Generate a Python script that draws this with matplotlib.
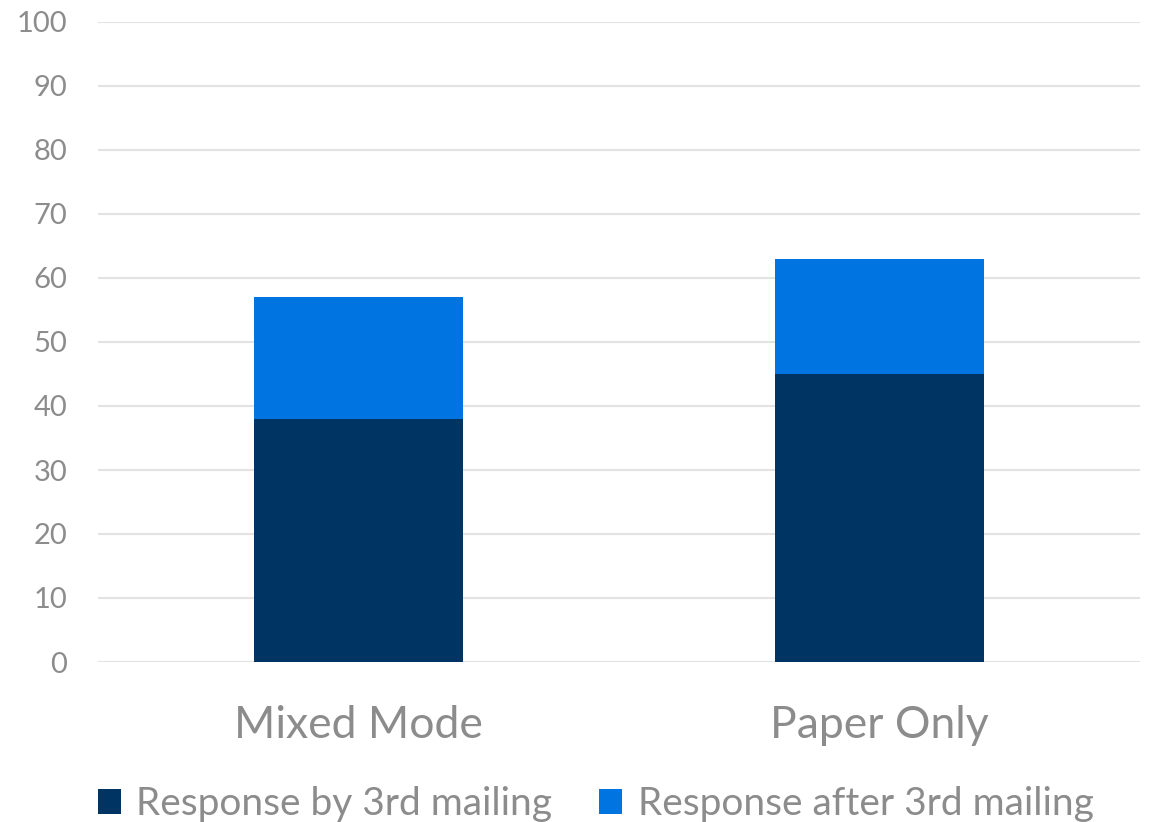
import matplotlib
matplotlib.use("Agg")
import matplotlib.pyplot as plt
import numpy as np

# data
categories = ["Mixed Mode", "Paper Only"]
by_3rd = [38, 45]
after_3rd = [19, 18]
series_names = ["Response by 3rd mailing", "Response after 3rd mailing"]
colors = ["#003462", "#0074E0"]
grey = "#8c8c8c"

plt.rcParams["font.family"] = ["Lato", "DejaVu Sans"]

fig = plt.figure(figsize=(11.5, 8.22), dpi=100)
ax = fig.add_axes([98 / 1150, 160 / 822, 1042 / 1150, 640 / 822])

x = np.arange(len(categories))
ax.bar(x, by_3rd, width=0.4, color=colors[0], label=series_names[0], zorder=3)
ax.bar(x, after_3rd, width=0.4, bottom=by_3rd, color=colors[1],
       label=series_names[1], zorder=3)

ax.set_xlim(-0.5, 1.5)
ax.set_ylim(0, 100)
ax.set_yticks(range(0, 101, 10))
ax.set_xticks(x)
ax.set_xticklabels(categories, fontsize=32, color=grey)
ax.tick_params(axis="y", labelsize=21, colors=grey, length=0, pad=22)
ax.tick_params(axis="x", length=0, pad=31)
ax.grid(axis="y", color="#e3e3e3", linewidth=1.5, zorder=0)
for s in ax.spines.values():
    s.set_visible(False)

# legend along the bottom
leg = fig.legend(loc="center", bbox_to_anchor=(0.518, 18 / 822),
                 ncol=2, frameon=False, fontsize=28, handlelength=0.6,
                 handleheight=0.6, handletextpad=0.4, columnspacing=1.2)
for t in leg.get_texts():
    t.set_color(grey)

fig.savefig("out.png", dpi=100)
